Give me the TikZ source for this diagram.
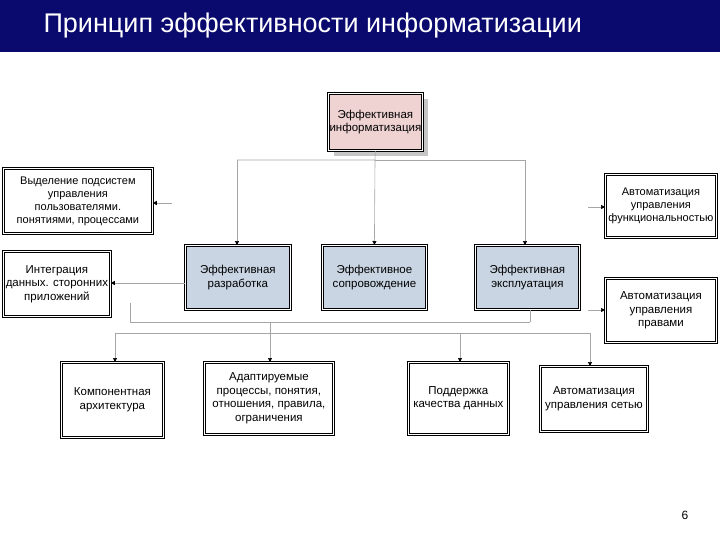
\documentclass[tikz,border=0pt]{standalone}
\usepackage{fontspec}
\setmainfont{Liberation Sans}
\usetikzlibrary{arrows.meta}
\definecolor{navy}{HTML}{0A0A6E}
\definecolor{pinkbox}{HTML}{EFD3D3}
\definecolor{bluebox}{HTML}{C9D5E3}
\begin{document}
\begin{tikzpicture}[x=1pt,y=-1pt,
  box/.style={draw=black,double=white,double distance=1.2pt,line width=0.8pt,align=center,font=\fontsize{11.5}{13.5}\selectfont,inner sep=1pt,anchor=north west},
  con/.style={draw=gray!70,line width=0.6pt},
  arr/.style={con,-{Triangle[length=4pt,width=4pt,black]}}]
\useasboundingbox (0,0) rectangle (720,540);
\fill[navy] (0,0) rectangle (720,52);
\node[text=white,font=\fontsize{27}{30}\selectfont,anchor=west] (title) at (40,26) {Принцип эффективности информатизации};
\fill[gray!45] (334,99) rectangle (428,156);
\node[box,fill=pinkbox,minimum width=94pt,minimum height=57pt] (top) at (328,93) {Эффективная\\информатизация};
\node[box,minimum width=149pt,minimum height=65pt,font=\fontsize{11}{13}\selectfont] (l1) at (3,168) {Выделение подсистем\\управления\\пользователями.\\понятиями, процессами};
\node[box,minimum width=107pt,minimum height=65pt] (l2) at (3,251) {Интеграция\\данных. сторонних\\приложений};
\node[box,fill=bluebox,minimum width=105pt,minimum height=64pt] (raz) at (185,245) {Эффективная\\разработка};
\node[box,fill=bluebox,minimum width=104pt,minimum height=64pt] (sop) at (322,245) {Эффективное\\сопровождение};
\node[box,fill=bluebox,minimum width=104pt,minimum height=64pt] (eks) at (475,245) {Эффективная\\эксплуатация};
\node[box,minimum width=111pt,minimum height=63pt,font=\fontsize{11}{13}\selectfont] (r1) at (605,174) {Автоматизация\\управления\\функциональностью};
\node[box,minimum width=111pt,minimum height=64pt] (r2) at (605,278) {Автоматизация\\управления\\правами};
\node[box,minimum width=102pt,minimum height=75pt] (b1) at (61,362) {Компонентная\\архитектура};
\node[box,minimum width=129pt,minimum height=72pt] (b2) at (204,362) {Адаптируемые\\процессы, понятия,\\отношения, правила,\\ограничения};
\node[box,minimum width=100pt,minimum height=72pt] (b3) at (408,362) {Поддержка\\качества данных};
\node[box,minimum width=107pt,minimum height=65pt] (b4) at (540,366) {Автоматизация\\управления сетью};
\node[font=\fontsize{12}{14}\selectfont] (pg) at (685,515) {6};
% top bus
\coordinate (t1) at (375,160);
\coordinate (tl) at (237,160);
\coordinate (tr) at (525,160);
\draw[con] (top.south) -- (t1) -- (tl);
\draw[con] (t1) -- (tr);
\draw[arr] (tl) -- (raz.north -| tl);
\draw[arr] (t1) -- (sop.north);
\draw[arr] (tr) -- (eks.north -| tr);
\coordinate (lq) at (172,203);
\draw[arr] (lq) -- (l1.east |- lq);
\draw[arr] (raz.west |- 0,283) -- (l2.east |- 0,283);
\coordinate (rq1) at (588,207);
\coordinate (rq2) at (588,310);
\draw[arr] (rq1) -- (r1.west |- rq1);
\draw[arr] (rq2) -- (r2.west |- rq2);
% bottom bus
\draw[con] (130,303) -- (130,322) -- (530,322);
\draw[con] (eks.south -| 530,0) -- (530,322);
\coordinate (c1) at (115,333);
\coordinate (c2) at (270,333);
\coordinate (c3) at (460,333);
\coordinate (c4) at (590,333);
\draw[con] (c1) -- (c4);
\draw[con] (270,322) -- (c2);
\draw[arr] (c1) -- (b1.north -| c1);
\draw[arr] (c2) -- (b2.north -| c2);
\draw[arr] (c3) -- (b3.north -| c3);
\draw[arr] (c4) -- (b4.north -| c4);
\end{tikzpicture}
\end{document}
